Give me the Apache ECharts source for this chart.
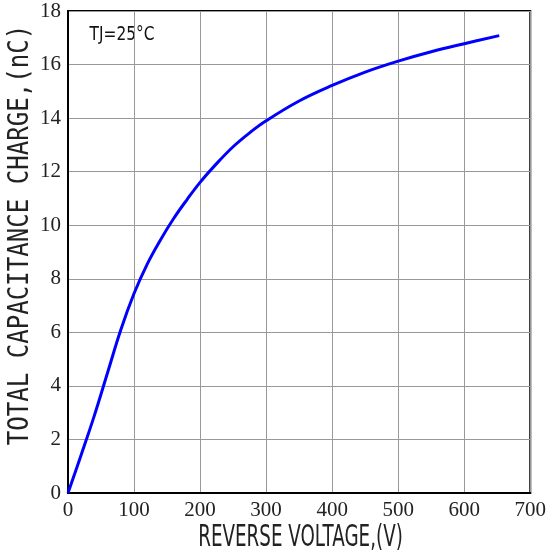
<!DOCTYPE html>
<html>
<head>
<meta charset="utf-8">
<script src="https://cdn.jsdelivr.net/npm/echarts@6/dist/echarts.min.js"></script>
<style>
html,body{margin:0;padding:0;background:#fff;}
#c{width:549px;height:557px;}
</style>
</head>
<body>
<div id="c"></div>
<script>
var voltage = [0, 20, 40, 60, 80, 100, 120, 140, 160, 180, 200, 225, 250, 275, 300, 350, 400, 450, 500, 550, 600, 653];
var charge  = [0, 1.43, 2.9, 4.5, 6.1, 7.45, 8.55, 9.45, 10.25, 10.95, 11.6, 12.3, 12.93, 13.45, 13.9, 14.64, 15.22, 15.72, 16.13, 16.48, 16.78, 17.08];
var xTicks = [0, 100, 200, 300, 400, 500, 600, 700];
var yTicks = [0, 2, 4, 6, 8, 10, 12, 14, 16, 18];
var xTitle = 'REVERSE VOLTAGE,(V)';
var yTitle = 'TOTAL CAPACITANCE CHARGE,(nC)';
var note = 'TJ=25°C';

var chart = echarts.init(document.getElementById('c'));
var pts = voltage.map(function (v, i) { return [v, charge[i]]; });
chart.setOption({
  animation: false,
  backgroundColor: '#fff',
  grid: { left: 68, right: 16, top: 11, bottom: 64, show: true, borderColor: '#000', borderWidth: 2, backgroundColor: 'transparent' },
  xAxis: {
    type: 'value', min: xTicks[0], max: xTicks[xTicks.length - 1], interval: 100,
    axisLine: { show: true, lineStyle: { color: '#000', width: 2 } },
    axisTick: { show: false },
    splitLine: { show: true, lineStyle: { color: '#999', width: 1 } },
    axisLabel: { color: '#222', fontFamily: 'Liberation Serif', fontSize: 21, margin: 7 }
  },
  yAxis: {
    type: 'value', min: yTicks[0], max: yTicks[yTicks.length - 1], interval: 2,
    axisLine: { show: true, lineStyle: { color: '#000', width: 2 } },
    axisTick: { show: false },
    splitLine: { show: true, lineStyle: { color: '#999', width: 1 } },
    axisLabel: { color: '#222', fontFamily: 'Liberation Serif', fontSize: 21, margin: 7 }
  },
  graphic: [
    { type: 'text', x: 300.5, y: 538, scaleX: 0.59,
      style: { text: xTitle, font: '31px "DejaVu Sans"', fill: '#222', textAlign: 'center', textVerticalAlign: 'middle' } },
    { type: 'text', x: 21, y: 235, rotation: Math.PI / 2, scaleX: 0.86,
      style: { text: yTitle, font: '28px "DejaVu Sans Mono"', fill: '#222', textAlign: 'center', textVerticalAlign: 'middle' } },
    { type: 'text', x: 122, y: 35, scaleX: 0.81,
      style: { text: note, font: '19px "DejaVu Sans"', fill: '#111', textAlign: 'center', textVerticalAlign: 'middle' } }
  ],
  series: [{
    type: 'line', data: pts, smooth: 0.4, showSymbol: false,
    lineStyle: { color: '#0000ff', width: 3 }
  }]
});
</script>
</body>
</html>
